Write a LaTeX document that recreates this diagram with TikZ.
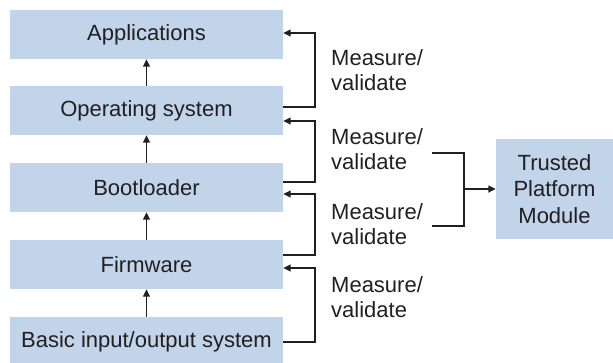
\documentclass[tikz,border=0pt]{standalone}
\usepackage{fontspec}
\setmainfont{Liberation Sans}
\usetikzlibrary{arrows.meta,calc}
\definecolor{boxblue}{RGB}{194,212,234}
\definecolor{ink}{RGB}{35,31,32}
\tikzset{
  layer/.style={fill=boxblue, draw=none, minimum width=273pt, minimum height=49pt, inner sep=0pt,
    font=\fontsize{22pt}{25pt}\selectfont, text=ink},
  tpmbox/.style={fill=boxblue, draw=none, minimum width=117pt, minimum height=100pt, inner sep=0pt,
    align=center, font=\fontsize{22pt}{26.5pt}\selectfont, text=ink},
  lbl/.style={align=left, inner sep=0pt, anchor=west, font=\fontsize{22pt}{25pt}\selectfont, text=ink},
  conn/.style={draw=ink, line width=1.5pt},
  arr/.style={conn, -{Triangle[length=7.5pt,width=7pt]}}
}
\begin{document}
\begin{tikzpicture}[x=1pt,y=-1pt]
\useasboundingbox (0,0) rectangle (613,362);
\clip (0,0) rectangle (613,362);
\node[layer] (app) at (146.5,34.5) {Applications};
\node[layer] (os) at (146.5,110.5) {Operating system};
\node[layer] (boot) at (146.5,187.5) {Bootloader};
\node[layer] (fw) at (146.5,264.5) {Firmware};
\node[layer] (bios) at (146.5,341.5) {Basic input/output system};
\node[tpmbox] (tpm) at (554.5,189) {Trusted\\Platform\\Module};

\draw[arr] (os) -- (app);
\draw[arr] (boot) -- (os);
\draw[arr] (fw) -- (boot);
\draw[arr] (bios) -- (fw);

\draw[arr] ([yshift=3.5pt]os.east) -- ++(31.7,0) |- ([yshift=1.5pt]app.east);
\draw[arr] ([yshift=5.5pt]boot.east) -- ++(31.7,0) |- ([yshift=-10.5pt]os.east);
\draw[arr] ([yshift=9.5pt]fw.east) -- ++(31.7,0) |- ([yshift=-6.5pt]boot.east);
\draw[arr] ([yshift=-0.5pt]bios.east) -- ++(31.7,0) |- ([yshift=-3.5pt]fw.east);

\node[lbl] (l1) at (331,70.5) {Measure/\\validate};
\node[lbl] (l2) at (331,149.5) {Measure/\\validate};
\node[lbl] (l3) at (331,224) {Measure/\\validate};
\node[lbl] (l4) at (331,297.5) {Measure/\\validate};

\coordinate (b1) at (432,153);
\coordinate (b2) at (432,226);
\coordinate (j) at (464,189);
\draw[conn] (b1) -| (j) |- (b2);
\draw[arr] (j) -- (tpm);
\end{tikzpicture}
\end{document}
